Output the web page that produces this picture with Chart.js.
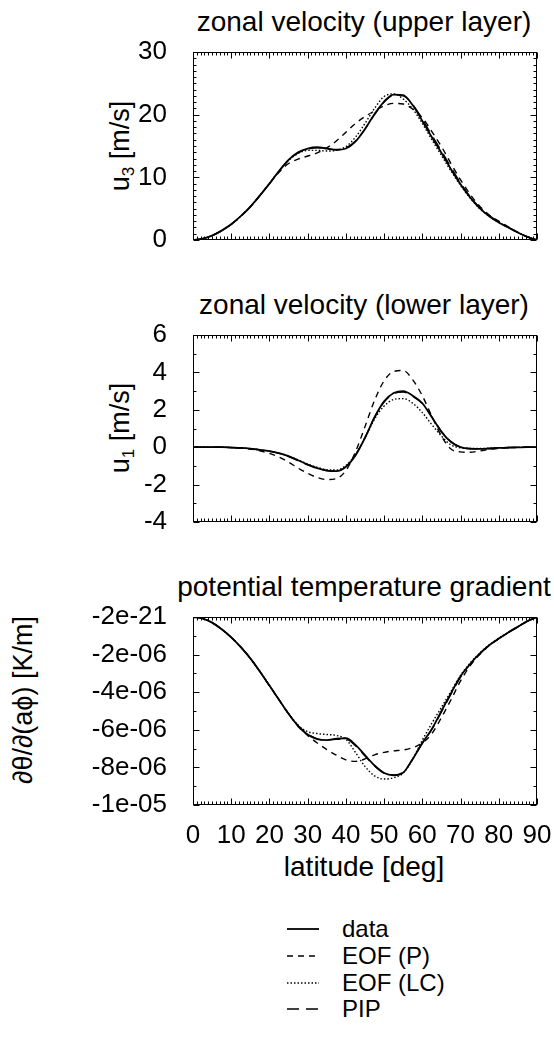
<!DOCTYPE html>
<html>
<head>
<meta charset="utf-8">
<script src="https://cdn.jsdelivr.net/npm/chart.js@4.4.0/dist/chart.umd.min.js"></script>
<style>
  body{margin:0;background:#fff;width:554px;height:1047px;position:relative;overflow:hidden;font-family:"Liberation Sans",Arial,Helvetica,sans-serif;color:#000}
  canvas{position:absolute;left:0}
  .ttl{position:absolute;left:364px;transform:translateX(-50%);font-size:28px;line-height:28px;white-space:nowrap}
  .ylab{position:absolute;font-size:27px;line-height:27px;white-space:nowrap;transform:translate(-50%,-50%) rotate(-90deg)}
  .ylab sub{font-size:17px;vertical-align:-5px;line-height:0}
  .xlab{position:absolute;left:364px;top:853px;transform:translateX(-50%);font-size:28px;line-height:28px;white-space:nowrap}
  .leg{position:absolute;left:287px;height:24px;display:flex;align-items:center;font-size:24px;white-space:nowrap}
  .leg svg{width:32px;height:4px;margin-right:23px}
</style>
</head>
<body>
<div class="ttl" style="top:8px">zonal velocity (upper layer)</div>
<div class="ttl" style="top:291px">zonal velocity (lower layer)</div>
<div class="ttl" style="top:573px">potential temperature gradient</div>

<div class="ylab" style="left:120px;top:146px">u<sub>3</sub> [m/s]</div>
<div class="ylab" style="left:120px;top:428px">u<sub>1</sub> [m/s]</div>
<div class="ylab" style="left:23px;top:700px">∂θ/∂(aϕ) [K/m]</div>

<canvas id="cU3" width="554" height="228" style="top:32px"></canvas>
<canvas id="cU1" width="554" height="227" style="top:315px"></canvas>
<canvas id="cGrad" width="554" height="248" style="top:597px"></canvas>

<div class="xlab">latitude [deg]</div>

<div id="legend"></div>

<script>
// latitude grid [deg]
const lat = [0,2.5,5,7.5,10,12.5,15,17.5,20,22.5,25,27.5,30,32.5,35,37.5,40,42.5,45,47.5,50,52.5,55,57.5,60,62.5,65,67.5,70,72.5,75,77.5,80,82.5,85,87.5,90];

// upper layer zonal velocity u3 [m/s]
const u3Data  = [0,0.2,0.7,1.5,2.5,3.8,5.3,7.1,9.0,11.0,12.8,14.0,14.6,14.8,14.6,14.4,14.6,15.7,17.7,20.1,22.1,23.2,23.1,21.5,19.0,16.4,13.9,11.3,8.9,6.8,5.1,3.8,2.8,2.0,1.2,0.5,0];
const u3EofP  = [0,0.2,0.7,1.5,2.5,3.8,5.3,7.1,9.0,10.8,12.2,12.9,13.4,13.9,14.7,15.8,17.2,18.6,19.7,20.6,21.4,21.8,21.7,20.9,19.5,17.3,14.9,12.2,9.6,7.3,5.4,4.0,3.0,2.1,1.2,0.5,0];
const u3EofLC = [0,0.2,0.7,1.5,2.5,3.8,5.3,7.1,9.0,11.0,12.7,13.8,14.3,14.3,14.2,14.3,14.9,16.4,18.6,21.0,22.9,23.3,22.5,20.9,18.6,16.0,13.5,11.0,8.7,6.7,5.0,3.8,2.8,2.0,1.2,0.5,0];
const u3Pip   = [0,0.2,0.7,1.5,2.5,3.8,5.3,7.1,9.0,11.0,12.7,13.9,14.5,14.7,14.6,14.4,14.7,15.8,17.7,20.0,22.0,23.1,23.0,21.6,19.3,16.7,14.2,11.6,9.1,6.9,5.2,3.9,2.9,2.0,1.2,0.5,0];

// lower layer zonal velocity u1 [m/s]
const u1Data  = [0,0,0,0,-0.02,-0.04,-0.08,-0.14,-0.21,-0.32,-0.48,-0.70,-0.93,-1.12,-1.25,-1.28,-1.05,-0.45,0.50,1.60,2.45,2.90,3.00,2.75,2.35,1.60,0.82,0.28,0.0,-0.08,-0.09,-0.07,-0.04,-0.02,-0.01,0,0];
const u1EofP  = [0,0,0,0,-0.02,-0.05,-0.1,-0.2,-0.33,-0.53,-0.8,-1.12,-1.4,-1.62,-1.73,-1.68,-1.25,-0.25,1.1,2.5,3.55,4.05,4.1,3.6,2.75,1.65,0.6,-0.1,-0.25,-0.27,-0.2,-0.12,-0.06,-0.03,-0.01,0,0];
const u1EofLC = [0,0,0,0,-0.02,-0.04,-0.08,-0.14,-0.21,-0.32,-0.47,-0.68,-0.9,-1.08,-1.2,-1.22,-0.98,-0.4,0.5,1.5,2.2,2.55,2.6,2.35,1.85,1.2,0.6,0.12,-0.03,-0.07,-0.07,-0.05,-0.03,-0.02,-0.01,0,0];
const u1Pip   = [0,0,0,0,-0.02,-0.04,-0.08,-0.14,-0.22,-0.33,-0.5,-0.72,-0.95,-1.13,-1.25,-1.27,-1.03,-0.42,0.52,1.6,2.42,2.86,2.95,2.72,2.33,1.62,0.85,0.3,0.01,-0.08,-0.09,-0.07,-0.04,-0.02,-0.01,0,0];

// potential temperature gradient, in units of 1e-6 K/m
const gradData  = [0,-0.08,-0.3,-0.65,-1.08,-1.6,-2.2,-2.9,-3.65,-4.4,-5.15,-5.8,-6.25,-6.5,-6.55,-6.47,-6.45,-6.8,-7.35,-7.9,-8.3,-8.42,-8.28,-7.55,-6.7,-5.95,-5.0,-4.05,-3.15,-2.5,-1.95,-1.5,-1.15,-0.82,-0.52,-0.22,0];
const gradEofP  = [0,-0.08,-0.3,-0.65,-1.08,-1.6,-2.2,-2.9,-3.65,-4.4,-5.15,-5.82,-6.3,-6.7,-7.05,-7.35,-7.6,-7.68,-7.55,-7.33,-7.2,-7.12,-7.07,-6.95,-6.7,-6.2,-5.35,-4.4,-3.4,-2.6,-2.0,-1.52,-1.16,-0.82,-0.52,-0.22,0];
const gradEofLC = [0,-0.08,-0.3,-0.65,-1.08,-1.6,-2.2,-2.9,-3.65,-4.4,-5.12,-5.75,-6.1,-6.2,-6.25,-6.3,-6.5,-7.2,-7.95,-8.45,-8.62,-8.55,-8.3,-7.55,-6.55,-5.65,-4.8,-3.95,-3.1,-2.45,-1.92,-1.48,-1.13,-0.81,-0.51,-0.22,0];
const gradPip   = [0,-0.08,-0.3,-0.65,-1.08,-1.6,-2.2,-2.9,-3.65,-4.4,-5.15,-5.78,-6.22,-6.48,-6.55,-6.5,-6.5,-6.85,-7.4,-7.92,-8.3,-8.4,-8.25,-7.55,-6.72,-5.98,-5.05,-4.1,-3.2,-2.52,-1.97,-1.5,-1.15,-0.82,-0.52,-0.22,0];

// ticks
const latTicks  = [0,10,20,30,40,50,60,70,80,90];
const u3Ticks   = [0,10,20,30];
const u1Ticks   = [-4,-2,0,2,4,6];
const gradTicks = [-10,-8,-6,-4,-2,0];
const gradTickLabels = ['-1e-05','-8e-06','-6e-06','-4e-06','-2e-06','-2e-21'];

const seriesNames = ['data','EOF (P)','EOF (LC)','PIP'];

(function(){
  const FONT = '"Liberation Sans", Arial, Helvetica, sans-serif';
  Chart.defaults.font.family = FONT;
  Chart.defaults.font.size = 26;
  Chart.defaults.color = '#000';

  // line styles: data, EOF (P), EOF (LC), PIP
  const STY = [
    {dash:[],      w:1.8},
    {dash:[6,5],   w:1.4},
    {dash:[1.5,2], w:1.4},
    {dash:[12,7],  w:1.4}
  ];

  // frame with inward major/minor ticks on all four sides
  const frame = {
    id:'frame',
    afterDatasetsDraw(c,_,o){
      const {ctx, chartArea:a, scales:{x,y}} = c;
      const L=Math.round(a.left)+.5, R=Math.round(a.right)-.5, T=Math.round(a.top)+.5, B=Math.round(a.bottom)-.5;
      ctx.save();
      ctx.strokeStyle='#000'; ctx.lineWidth=1; ctx.setLineDash([]);
      ctx.strokeRect(L,T,R-L,B-T);
      ctx.beginPath();
      let n=Math.round((x.max-x.min)/o.xMinor);
      for(let i=0;i<=n;i++){
        const p=Math.round(x.getPixelForValue(x.min+i*o.xMinor))+.5, len=i%o.xEvery?3:6;
        ctx.moveTo(p,B); ctx.lineTo(p,B-len); ctx.moveTo(p,T); ctx.lineTo(p,T+len);
      }
      n=Math.round((y.max-y.min)/o.yMinor);
      for(let i=0;i<=n;i++){
        const p=Math.round(y.getPixelForValue(y.min+i*o.yMinor))+.5, len=i%o.yEvery?3:6;
        ctx.moveTo(L,p); ctx.lineTo(L+len,p); ctx.moveTo(R,p); ctx.lineTo(R-len,p);
      }
      ctx.stroke();
      ctx.restore();
    }
  };

  const pts = ys => lat.map((v,i)=>({x:v,y:ys[i]}));

  function make(id, series, yMin, yMax, yTicks, yLabels, yEvery, showX){
    return new Chart(document.getElementById(id), {
      type:'line',
      data:{datasets: series.map((s,i)=>({
        label:seriesNames[i], data:pts(s), borderColor:'#000', borderWidth:STY[i].w, borderDash:STY[i].dash,
        pointRadius:0, fill:false, cubicInterpolationMode:'monotone'
      }))},
      options:{
        responsive:false, animation:false, devicePixelRatio:1,
        layout:{padding:{left:0,right:17,top:20,bottom:showX?0:20}},
        plugins:{legend:{display:false}, tooltip:{enabled:false},
          frame:{xMinor:1, xEvery:10, yMinor:1, yEvery:yEvery}},
        scales:{
          x:{type:'linear', min:0, max:90, display:showX,
             grid:{display:false}, border:{display:false},
             afterBuildTicks:s=>{s.ticks=latTicks.map(v=>({value:v}));},
             afterFit:s=>{s.height=showX?40:0; s.paddingLeft=0; s.paddingRight=0;},
             ticks:{padding:7, maxRotation:0, autoSkip:false}},
          y:{min:yMin, max:yMax, grid:{display:false}, border:{display:false},
             afterBuildTicks:s=>{s.ticks=yTicks.map(v=>({value:v}));},
             afterFit:s=>{s.width=193; s.paddingTop=0; s.paddingBottom=0;},
             ticks:{padding:18, autoSkip:false,
               callback:(v,i)=>yLabels?yLabels[i]:v}}
        }
      },
      plugins:[frame]
    });
  }

  make('cU3',   [u3Data,u3EofP,u3EofLC,u3Pip],         0, 30, u3Ticks,   null,           10, false);
  make('cU1',   [u1Data,u1EofP,u1EofLC,u1Pip],        -4,  6, u1Ticks,   null,            2, false);
  make('cGrad', [gradData,gradEofP,gradEofLC,gradPip],-10,  0, gradTicks, gradTickLabels,  2, true);

  // legend
  const rowY=[917,944,971,997];
  document.getElementById('legend').innerHTML = seriesNames.map((n,i)=>
    `<div class="leg" style="top:${rowY[i]}px"><svg viewBox="0 0 32 4"><line x1="0" y1="2" x2="32" y2="2" stroke="#000" stroke-width="${STY[i].w}" stroke-dasharray="${STY[i].dash.join(' ')||'none'}"/></svg>${n}</div>`
  ).join('');
})();
</script>
</body>
</html>
